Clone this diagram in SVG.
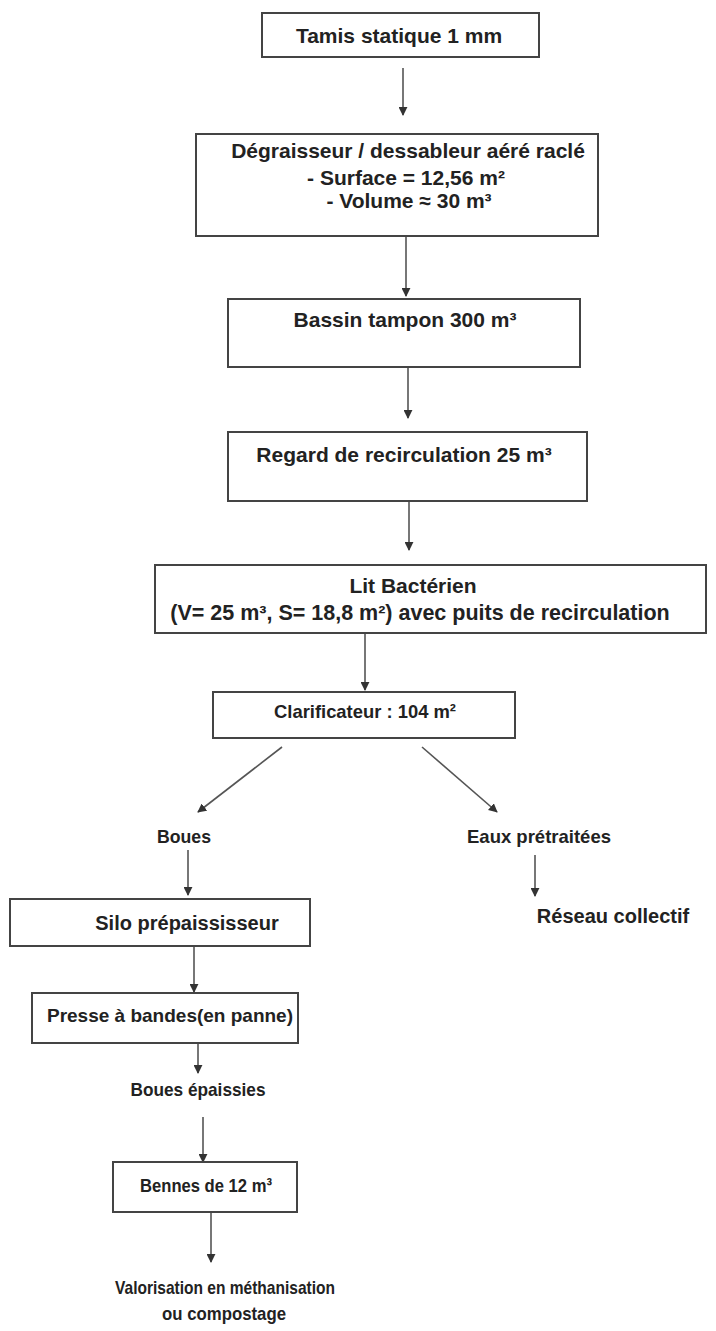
<svg xmlns="http://www.w3.org/2000/svg" width="716" height="1331" viewBox="0 0 716 1331">
<defs>
<marker id="ah" viewBox="0 0 10 10" refX="9" refY="5" markerWidth="9" markerHeight="9" markerUnits="userSpaceOnUse" orient="auto">
<path d="M0,0 L10,5 L0,10 Z" fill="#333"/>
</marker>
<style>
.box{fill:#fff;stroke:#444;stroke-width:2}
.t{font-family:"Liberation Sans",Arial,sans-serif;font-weight:bold;font-size:21px;fill:#222;text-anchor:middle}
.s{font-size:19px}
.c{stroke:#555;stroke-width:1.6;fill:none;marker-end:url(#ah)}
</style>
</defs>
<rect width="716" height="1331" fill="#fff"/>
<g id="connectors">
<line class="c" x1="403" y1="68" x2="403" y2="115"/>
<line class="c" x1="406" y1="236" x2="406" y2="296"/>
<line class="c" x1="408" y1="367" x2="408" y2="418"/>
<line class="c" x1="409" y1="501" x2="409" y2="550"/>
<line class="c" x1="365" y1="633" x2="365" y2="690"/>
<line class="c" x1="282" y1="747" x2="198" y2="812"/>
<line class="c" x1="422" y1="747" x2="497" y2="812"/>
<line class="c" x1="188" y1="850" x2="188" y2="895"/>
<line class="c" x1="535" y1="855" x2="535" y2="896"/>
<line class="c" x1="194" y1="946" x2="194" y2="992"/>
<line class="c" x1="198" y1="1043" x2="198" y2="1073"/>
<line class="c" x1="203" y1="1117" x2="203" y2="1162"/>
<line class="c" x1="211" y1="1212" x2="211" y2="1262"/>
</g>
<g id="n1"><rect class="box" x="262" y="13" width="277" height="44"/><text class="t" x="399" y="43">Tamis statique 1 mm</text></g>
<g id="n2"><rect class="box" x="196" y="134" width="402" height="102"/>
<text class="t" x="408" y="158">Dégraisseur / dessableur aéré raclé</text>
<text class="t" x="406" y="185">- Surface = 12,56 m²</text>
<text class="t" x="409" y="208">- Volume ≈ 30 m³</text></g>
<g id="n3"><rect class="box" x="228" y="299" width="352" height="68"/><text class="t" x="405" y="327">Bassin tampon 300 m³</text></g>
<g id="n4"><rect class="box" x="228" y="432" width="359" height="69"/><text class="t" x="404" y="462">Regard de recirculation 25 m³</text></g>
<g id="n5"><rect class="box" x="155" y="565" width="551" height="68"/>
<text class="t" x="413" y="593">Lit Bactérien</text>
<text class="t" x="420" y="620" style="font-size:21.5px">(V= 25 m³, S= 18,8 m²) avec puits de recirculation</text></g>
<g id="n6"><rect class="box" x="213" y="692" width="302" height="46"/><text class="t s" x="365" y="718" textLength="182" lengthAdjust="spacingAndGlyphs">Clarificateur : 104 m²</text></g>
<g id="n7"><text class="t s" x="184" y="843" textLength="54" lengthAdjust="spacingAndGlyphs">Boues</text></g>
<g id="n8"><text class="t s" x="539" y="843" textLength="144" lengthAdjust="spacingAndGlyphs">Eaux prétraitées</text></g>
<g id="n9"><text class="t" x="613" y="923" style="font-size:20px">Réseau collectif</text></g>
<g id="n10"><rect class="box" x="10" y="899" width="300" height="47"/><text class="t" x="187" y="930" style="font-size:20px">Silo prépaississeur</text></g>
<g id="n11"><rect class="box" x="32" y="993" width="266" height="50"/><text class="t s" x="170" y="1022">Presse à bandes(en panne)</text></g>
<g id="n12"><text class="t s" x="198" y="1096" textLength="135" lengthAdjust="spacingAndGlyphs">Boues épaissies</text></g>
<g id="n13"><rect class="box" x="113" y="1162" width="184" height="50"/><text class="t s" x="206" y="1192" textLength="132" lengthAdjust="spacingAndGlyphs">Bennes de 12 m³</text></g>
<g id="n14"><text class="t s" x="225" y="1294" textLength="220" lengthAdjust="spacingAndGlyphs">Valorisation en méthanisation</text><text class="t s" x="224" y="1320" textLength="124" lengthAdjust="spacingAndGlyphs">ou compostage</text></g>
</svg>
